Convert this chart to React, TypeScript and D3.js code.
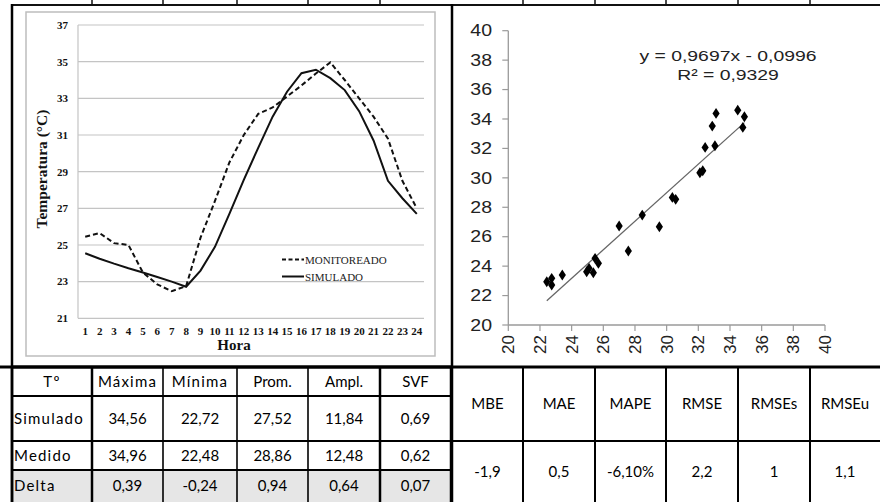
import React from "react";
import * as d3 from "d3";

const hours = d3.range(1, 25).map(String);
const monitoreado = [25.45, 25.65, 25.1, 25.0, 23.5, 22.85, 22.48, 22.75, 25.4, 27.4, 29.5, 31.0, 32.15, 32.5, 33.1, 33.7, 34.35, 34.96, 34.0, 33.0, 32.0, 30.8, 28.5, 27.0];
const simulado = [24.55, 24.25, 23.98, 23.73, 23.5, 23.25, 23.0, 22.72, 23.6, 24.9, 26.7, 28.55, 30.3, 32.0, 33.36, 34.37, 34.56, 34.1, 33.45, 32.3, 30.7, 28.5, 27.55, 26.7];
const lineYTicks = [21, 23, 25, 27, 29, 31, 33, 35, 37];

const scatterX = [22.43, 22.74, 22.74, 23.41, 24.95, 25.1, 25.37, 25.48, 25.69, 27.0, 27.58, 28.46, 29.54, 30.36, 30.57, 32.1, 32.28, 32.43, 33.05, 32.88, 33.12, 34.49, 34.91, 34.81];
const scatterY = [22.94, 23.17, 22.72, 23.4, 23.62, 23.85, 23.55, 24.53, 24.19, 26.73, 25.03, 27.47, 26.68, 28.67, 28.54, 30.35, 30.48, 32.07, 32.18, 33.52, 34.38, 34.6, 34.15, 33.43];
const scatterTicks = [20, 22, 24, 26, 28, 30, 32, 34, 36, 38, 40];
const slope = 0.9697;
const intercept = -0.0996;
const eqText = "y = 0,9697x - 0,0996";
const r2Text = "R² = 0,9329";

const leftHeader = ["Tº", "Máxima", "Mínima", "Prom.", "Ampl.", "SVF"];
const leftRows = [
  ["Simulado", "34,56", "22,72", "27,52", "11,84", "0,69"],
  ["Medido", "34,96", "22,48", "28,86", "12,48", "0,62"],
  ["Delta", "0,39", "-0,24", "0,94", "0,64", "0,07"],
];
const rightHeader = ["MBE", "MAE", "MAPE", "RMSE", "RMSEs", "RMSEu"];
const rightValues = ["-1,9", "0,5", "-6,10%", "2,2", "1", "1,1"];

export default function App() {
  // line chart scales
  const xl = d3.scalePoint<string>().domain(hours).range([78, 424]).padding(0.5);
  const yl = d3.scaleLinear().domain([21, 37]).range([318.3, 25]);
  const line = d3
    .line<number>()
    .x((_, i) => xl(hours[i]) as number)
    .y((d) => yl(d));

  // scatter scales
  const xs = d3.scaleLinear().domain([20, 40]).range([508.3, 825]);
  const ys = d3.scaleLinear().domain([20, 40]).range([325, 30.7]);
  const diamond = d3.symbol(d3.symbolDiamond, 34)() as string;
  const xmin = d3.min(scatterX) as number;
  const xmax = d3.max(scatterX) as number;

  const serif = "'Liberation Serif', 'Times New Roman', serif";
  const sans = "'Liberation Sans', Arial, sans-serif";
  const tfont = "Lato, 'Open Sans', sans-serif";

  const lCols = [12, 92, 163, 237, 308, 380, 451];
  const lRows = [367, 396, 441, 470, 502];
  const rCols = [452, 523, 595, 666, 738, 810, 880];
  const rRows = [367, 441, 502];

  return (
    <svg width={880} height={502} style={{ position: "absolute", left: 0, top: 0, background: "#fff" }}>
      <rect x={0} y={0} width={880} height={502} fill="#fff" />
      {/* top remnant of a table */}
      <line x1={12} x2={880} y1={5} y2={5} stroke="#111" strokeWidth={2} />
      {[...lCols.slice(1, 6), ...rCols.slice(1, 6)].map((x, i) => (
        <line key={"tt" + i} x1={x} x2={x} y1={0} y2={5} stroke="#111" strokeWidth={1.5} />
      ))}
      {/* Line chart frame */}
      <rect x={26} y={12} width={409} height={344} fill="none" stroke="#bdbdbd" strokeWidth={1.5} />
      {lineYTicks.map((t) => (
        <g key={"yl" + t}>
          <line x1={78} x2={424} y1={yl(t)} y2={yl(t)} stroke="#c4c4c4" strokeWidth={1.2} />
          <text x={68} y={yl(t)} dy="0.35em" textAnchor="end" fontFamily={serif} fontWeight="bold" fontSize={11} fill="#111">
            {t}
          </text>
        </g>
      ))}
      <line x1={78} x2={78} y1={25} y2={318.3} stroke="#c4c4c4" strokeWidth={1.2} />
      {hours.map((h) => (
        <text key={"xl" + h} x={xl(h)} y={335} textAnchor="middle" fontFamily={serif} fontWeight="bold" fontSize={11} fill="#111">
          {h}
        </text>
      ))}
      <text x={234} y={350} textAnchor="middle" fontFamily={serif} fontWeight="bold" fontSize={15} fill="#111">
        Hora
      </text>
      <text transform="translate(47,169) rotate(-90)" textAnchor="middle" fontFamily={serif} fontWeight="bold" fontSize={15.5} fill="#111">
        Temperatura (°C)
      </text>
      <path d={line(monitoreado) as string} fill="none" stroke="#111" strokeWidth={2} strokeDasharray="5,3" />
      <path d={line(simulado) as string} fill="none" stroke="#111" strokeWidth={2} />
      <line x1={282} x2={304} y1={259.5} y2={259.5} stroke="#111" strokeWidth={2} strokeDasharray="4,2.5" />
      <text x={305} y={263.5} fontFamily={serif} fontSize={11} fill="#222">MONITOREADO</text>
      <line x1={282} x2={304} y1={276.5} y2={276.5} stroke="#111" strokeWidth={2} />
      <text x={305} y={280.5} fontFamily={serif} fontSize={11} fill="#222">SIMULADO</text>

      {/* Scatter */}
      <line x1={xs(20)} x2={xs(20)} y1={ys(40)} y2={ys(20)} stroke="#9a9a9a" strokeWidth={1.3} />
      <line x1={xs(20)} x2={xs(40)} y1={ys(20)} y2={ys(20)} stroke="#9a9a9a" strokeWidth={1.3} />
      {scatterTicks.map((t) => (
        <g key={"ys" + t}>
          <line x1={xs(20) - 6} x2={xs(20)} y1={ys(t)} y2={ys(t)} stroke="#9a9a9a" strokeWidth={1.2} />
          <text transform={`translate(492,${ys(t)}) scale(1.22,1)`} dy="0.36em" textAnchor="end" fontFamily={sans} fontSize={16} fill="#222">
            {t}
          </text>
          <line x1={xs(t)} x2={xs(t)} y1={ys(20)} y2={ys(20) + 6} stroke="#9a9a9a" strokeWidth={1.2} />
          <text transform={`translate(${xs(t)},335) rotate(-90)`} dy="0.36em" textAnchor="end" fontFamily={sans} fontSize={17} fill="#222">
            {t}
          </text>
        </g>
      ))}
      <line x1={xs(xmin)} x2={xs(xmax)} y1={ys(slope * xmin + intercept)} y2={ys(slope * xmax + intercept)} stroke="#666" strokeWidth={1.3} />
      {scatterX.map((x, i) => (
        <path key={"pt" + i} d={diamond} transform={`translate(${xs(x)},${ys(scatterY[i])}) scale(1.15,1)`} fill="#000" />
      ))}
      <text transform="translate(728,61) scale(1.25,1)" textAnchor="middle" fontFamily={sans} fontSize={15.5} fill="#222">
        {eqText}
      </text>
      <text transform="translate(728,80) scale(1.25,1)" textAnchor="middle" fontFamily={sans} fontSize={15.5} fill="#222">
        {r2Text}
      </text>

      {/* Left table */}
      <rect x={lCols[0]} y={lRows[3]} width={lCols[6] - lCols[0]} height={lRows[4] - lRows[3]} fill="#e6e6e6" />
      {[leftHeader, ...leftRows].map((row, r) =>
        row.map((cell, c) => {
          const cy = (lRows[r] + lRows[r + 1]) / 2;
          const first = c === 0 && r > 0;
          const isWord = /[A-Za-z]/.test(cell);
          return (
            <text
              key={`lt${r}-${c}`}
              x={first ? 14 : (lCols[c] + lCols[c + 1]) / 2}
              y={cy}
              dy="0.36em"
              textAnchor={first ? "start" : "middle"}
              fontFamily={tfont}
              fontSize={15}
              letterSpacing={isWord && c < 3 ? 1.2 : 0}
              fill="#000"
            >
              {cell}
            </text>
          );
        })
      )}
      {lRows.slice(0, 4).map((y, i) => (
        <line key={"lh" + i} x1={lCols[0]} x2={lCols[6]} y1={y} y2={y} stroke="#000" strokeWidth={i === 0 ? 3 : 2} />
      ))}
      {lCols.map((x, i) => (
        <line key={"lv" + i} x1={x} x2={x} y1={lRows[0]} y2={502} stroke="#000" strokeWidth={i === 0 || i === 1 || i === 5 || i === 6 ? 2.5 : 1.6} />
      ))}

      {/* Right table */}
      {rightHeader.map((h, c) => (
        <text key={"rh" + c} x={(rCols[c] + rCols[c + 1]) / 2} y={(rRows[0] + rRows[1]) / 2} dy="0.36em" textAnchor="middle" fontFamily={tfont} fontSize={15} fill="#000">
          {h}
        </text>
      ))}
      {rightValues.map((v, c) => (
        <text key={"rv" + c} x={(rCols[c] + rCols[c + 1]) / 2} y={(rRows[1] + rRows[2]) / 2} dy="0.36em" textAnchor="middle" fontFamily={tfont} fontSize={15} fill="#000">
          {v}
        </text>
      ))}
      <line x1={452} x2={880} y1={rRows[1]} y2={rRows[1]} stroke="#000" strokeWidth={2} />
      {rCols.slice(1, 6).map((x, i) => (
        <line key={"rv" + i} x1={x} x2={x} y1={rRows[0]} y2={502} stroke="#000" strokeWidth={2} />
      ))}

      {/* frame lines */}
      <line x1={0} x2={880} y1={367} y2={367} stroke="#000" strokeWidth={3} />
      <line x1={12} x2={12} y1={4} y2={502} stroke="#000" strokeWidth={2.5} />
      <line x1={452} x2={452} y1={4} y2={502} stroke="#000" strokeWidth={2.5} />
    </svg>
  );
}
